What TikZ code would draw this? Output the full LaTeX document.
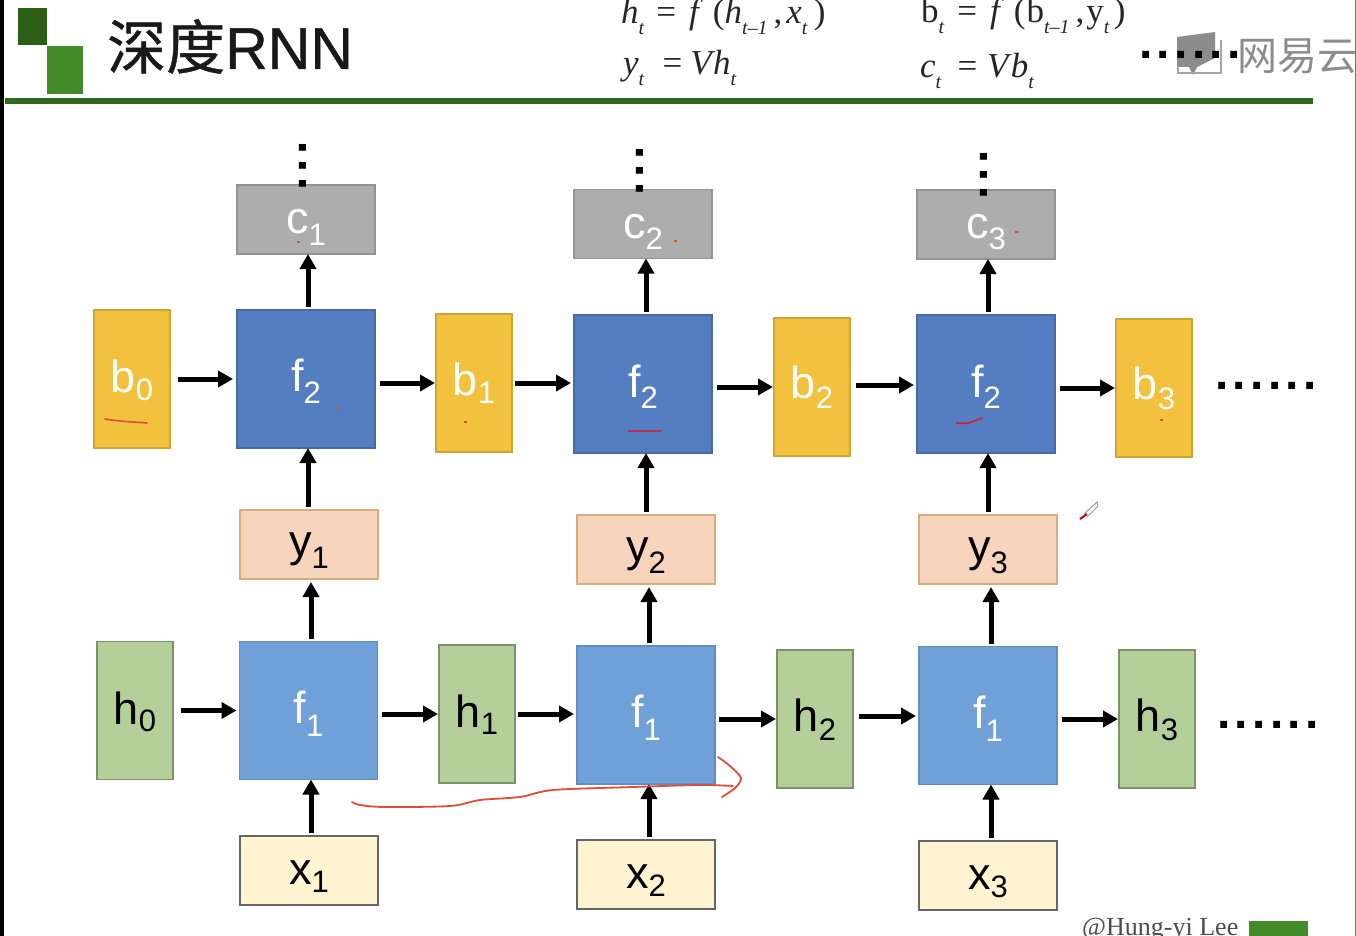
\documentclass[tikz,border=0pt]{standalone}
\usepackage{fontspec}
\usepackage{graphicx}
\setmainfont{Liberation Sans}
\newfontfamily\cjkfont{Noto Sans CJK SC}
\newfontfamily\cjkbold[FakeBold=0.7]{Noto Sans CJK SC}
\newfontfamily\titlelatin[FakeBold=0.7]{Liberation Sans}
\newfontfamily\serifont{Liberation Serif}
\usetikzlibrary{arrows.meta,calc}
\definecolor{fdark}{HTML}{557DC2}
\definecolor{flight}{HTML}{6FA0D8}
\definecolor{byel}{HTML}{F2C23E}
\definecolor{bgray}{HTML}{ADADAD}
\definecolor{ypeach}{HTML}{F6D5BC}
\definecolor{hgreen}{HTML}{B5CF9B}
\definecolor{xcream}{HTML}{FFF3D2}
\definecolor{gdark}{HTML}{2D5E16}
\definecolor{glight}{HTML}{438B28}
\definecolor{gline}{HTML}{2F6B1E}
\definecolor{scrib}{HTML}{DB4F38}
% letter, subscript, baseline below the box centre, drop of the subscript
\newcommand{\lab}[4]{\raisebox{-#3pt}{\fontsize{45}{45}\selectfont #1\raisebox{-#4pt}{\fontsize{31}{31}\selectfont #2}}}
\newcommand{\esub}[1]{\raisebox{-11pt}{\fontsize{20}{20}\selectfont\textit{#1}}}
\newcommand{\sixdots}{\fontsize{48}{48}\selectfont\bfseries .\kern4.4pt.\kern4.4pt.\kern4.4pt.\kern4.4pt.\kern4.4pt.}
\newcommand{\threedots}{\fontsize{48}{48}\selectfont\bfseries .\kern4.4pt.\kern4.4pt.}
\tikzset{
  x=1pt,y=-1pt,
  box/.style={inner sep=0pt,outer sep=0pt,line width=1.5pt,align=center,text height=0pt,text depth=0pt},
  squarebox/.style={box,minimum width=138pt,minimum height=138pt},
  tallbox/.style={box,minimum width=76pt,minimum height=138pt},
  widebox/.style={box,minimum width=138pt,minimum height=69pt},
  ff2/.style={squarebox,fill=fdark,draw=fdark!85!black,text=white},
  ff1/.style={squarebox,fill=flight,draw=flight!88!black,text=white},
  bb/.style={tallbox,fill=byel,draw=byel!85!black,text=white},
  hh/.style={tallbox,fill=hgreen,draw=hgreen!70!black,text=black},
  cc/.style={widebox,fill=bgray,draw=bgray!85!black,text=white},
  yy/.style={widebox,fill=ypeach,draw=ypeach!50!brown,text=black},
  xx/.style={widebox,fill=xcream,draw=black!60,text=black},
  arr/.style={-{Triangle[length=15pt,width=16pt]},line width=5pt,black,shorten <=3pt},
  dotsnode/.style={inner sep=0pt,outer sep=0pt,text=black},
  eqn/.style={inner sep=0pt,outer sep=0pt,anchor=base west,font=\serifont\fontsize{35}{35}\selectfont,text=black!85},
  scribble/.style={scrib,line width=1.8pt,line cap=round,line join=round},
}
\begin{document}
\begin{tikzpicture}
\useasboundingbox (0,0) rectangle (1356,936);
\clip (0,0) rectangle (1356,936);
\fill[white] (0,0) rectangle (1356,936);
% frame
\fill[black] (0,0) rectangle (4,936);
\fill[black!55] (1354.5,0) rectangle (1356,936);
% header
\fill[gdark] (18,8) rectangle (47,45);
\fill[glight] (47,46) rectangle (83,94);
\fill[gline] (5,98.5) rectangle (1313,104);
\node[inner sep=0pt,anchor=base west,text=black!90] (title) at (107,69) {\fontsize{59}{59}\selectfont{\cjkbold 深度}{\titlelatin RNN}};
% equations
\node[eqn] (eq1) at (621,24) {\textit{h}\esub{t}\kern12pt=\kern13pt\textit{f}\kern10pt(\textit{h}\esub{t–1}\kern6pt,\kern4pt\textit{x}\esub{t}\kern6pt)};
\node[eqn] (eq2) at (623,75) {\textit{y}\esub{t}\kern18pt=\kern8pt\textit{V}\kern-2pt\textit{h}\esub{t}};
\node[eqn] (eq3) at (921,23) {b\esub{t}\kern13pt=\kern13pt\textit{f}\kern10pt(\kern1pt b\esub{t–1}\kern6pt,\kern2pt y\esub{t}\kern4pt)};
\node[eqn] (eq4) at (920,78) {\textit{c}\esub{t}\kern16pt=\kern10pt\textit{V}\kern-1pt\textit{b}\esub{t}};
% watermark
\fill[black!45] (1177,37) -- (1215,32) -- (1215,58) -- (1197,67) -- (1193,75) -- (1189,67) -- (1177,67) -- cycle;
\draw[black!35,line width=2pt] (1178,66) -- (1178,73) -- (1221,73) -- (1221,40);
\node[inner sep=0pt,anchor=base west,text=black!45] (wm) at (1237,71) {\fontsize{40}{40}\selectfont{\cjkfont 网易云}};
\node[dotsnode] (topdots) at (1190,55) {\sixdots};
% upper row
\node[cc] (c1) at (306,219.5) {\lab{c}{1}{14}{12}};
\node[cc] (c2) at (643,224) {\lab{c}{2}{14}{11}};
\node[cc] (c3) at (986,224.5) {\lab{c}{3}{14}{11}};
\node[ff2] (g1) at (306,379) {\lab{f}{2}{12}{12}};
\node[ff2] (g2) at (643,384) {\lab{f}{2}{13}{11}};
\node[ff2] (g3) at (986,384) {\lab{f}{2}{13}{11}};
\node[bb] (b0) at (132,379) {\lab{b}{0}{13}{8}};
\node[bb] (b1) at (474,383) {\lab{b}{1}{12}{8}};
\node[bb] (b2) at (812,387) {\lab{b}{2}{11}{10}};
\node[bb] (b3) at (1154,388) {\lab{b}{3}{11}{10}};
\node[yy] (y1) at (309,544.5) {\lab{y}{1}{12}{12}};
\node[yy] (y2) at (646,549.5) {\lab{y}{2}{12}{12}};
\node[yy] (y3) at (988,549.5) {\lab{y}{3}{12}{12}};
% lower row
\node[ff1] (f1) at (308.5,710.5) {\lab{f}{1}{12.5}{13}};
\node[ff1] (f2) at (646,715) {\lab{f}{1}{12.5}{13}};
\node[ff1] (f3) at (988,715.5) {\lab{f}{1}{12.5}{13}};
\node[hh] (h0) at (135,710.5) {\lab{h}{0}{14}{7}};
\node[hh] (h1) at (477,714) {\lab{h}{1}{13}{7}};
\node[hh] (h2) at (815,719) {\lab{h}{2}{12}{9}};
\node[hh] (h3) at (1157,719) {\lab{h}{3}{12}{9}};
\node[xx] (x1) at (309,870.5) {\lab{x}{1}{14}{8}};
\node[xx] (x2) at (646,874.5) {\lab{x}{2}{14}{8}};
\node[xx] (x3) at (988,875.5) {\lab{x}{3}{14}{8}};
% vertical connectors
\foreach \a/\b/\d in {g1/c1/2,y1/g1/-1,g2/c2/3,y2/g2/0,g3/c3/2,y3/g3/0,x1/f1/2,x2/f2/3,x3/f3/3}
  \draw[arr] ([xshift=\d pt]\a.north) -- ([xshift=\d pt]\a.north |- \b.south);
\foreach \a/\b/\d in {f1/y1/2.5,f2/y2/3,f3/y3/3}
  \draw[arr,shorten >=3pt] ([xshift=\d pt]\a.north) -- ([xshift=\d pt]\a.north |- \b.south);
% horizontal connectors
\draw[arr,shorten <=8pt,shorten >=4pt] (b0.east) -- (b0.east -| g1.west);
\draw[arr,shorten <=5pt,shorten >=1pt] (g1.east |- b1.west) -- (b1.west);
\draw[arr,shorten >=3pt] (b1.east) -- (b1.east -| g2.west);
\draw[arr,shorten <=5pt,shorten >=1pt] (g2.east |- b2.west) -- (b2.west);
\draw[arr,shorten <=6pt,shorten >=3pt] ([yshift=2pt]b2.east) -- ([yshift=2pt]b2.east -| g3.west);
\draw[arr,shorten <=5pt,shorten >=1pt] (g3.east |- b3.west) -- (b3.west);
\draw[arr,shorten <=8pt,shorten >=3pt] (h0.east) -- (h0.east -| f1.west);
\draw[arr,shorten <=4pt,shorten >=1pt] (f1.east |- h1.west) -- (h1.west);
\draw[arr,shorten >=3pt] (h1.east) -- (h1.east -| f2.west);
\draw[arr,shorten <=4pt,shorten >=1pt] (f2.east |- h2.west) -- (h2.west);
\draw[arr,shorten <=6pt,shorten >=3pt] ([yshift=3pt]h2.east) -- ([yshift=3pt]h2.east -| f3.west);
\draw[arr,shorten <=5pt,shorten >=1pt] (f3.east |- h3.west) -- (h3.west);
% dots
\node[dotsnode,rotate=90] (vd1) at (303,166) {\threedots};
\node[dotsnode,rotate=90] (vd2) at (640,171) {\threedots};
\node[dotsnode,rotate=90] (vd3) at (984,175) {\threedots};
\node[dotsnode] (rd1) at (1266,386) {\sixdots};
\node[dotsnode] (rd2) at (1268,725) {\sixdots};
% handwritten annotations
\draw[scribble] plot[smooth,tension=.5] coordinates {(352,802) (360,805) (385,807) (450,806) (480,800) (520,797) (553,790) (633,787) (700,785) (733,786)};
\draw[scribble] plot[smooth,tension=.5] coordinates {(718,757) (730,766) (741,778) (735,788) (722,797)};
\draw[scribble,line width=1.6pt] plot[smooth,tension=.5] coordinates {(105,419) (120,421) (147,423)};
\draw[line width=2.2pt,color=red!60!fdark] (628,431) -- (662,431);
\draw[scribble,color=red!70!fdark] plot[smooth,tension=.5] coordinates {(957,423) (968,423) (982,418)};
\foreach \px/\py/\nm in {298/242/m1,465/422/m2,675/241/m3,1016/232/m4,1161/420/m5,336/409/m6}
  \fill[scrib] (\px-1.5,\py-1) rectangle (\px+1.5,\py+1);
% pen cursor
\draw[black!40,line width=1pt] (1084,514) -- (1097,502) -- (1098,506) -- (1087,517);
\draw[red!75!black,line width=2pt] (1080,519) -- (1087,514);
% footer
\node[inner sep=0pt,anchor=base west,text=black!70] (credit) at (1082,935) {\serifont\fontsize{26}{26}\selectfont @Hung-yi Lee};
\fill[glight] (1249,921) rectangle (1308,936);
\end{tikzpicture}
\end{document}
